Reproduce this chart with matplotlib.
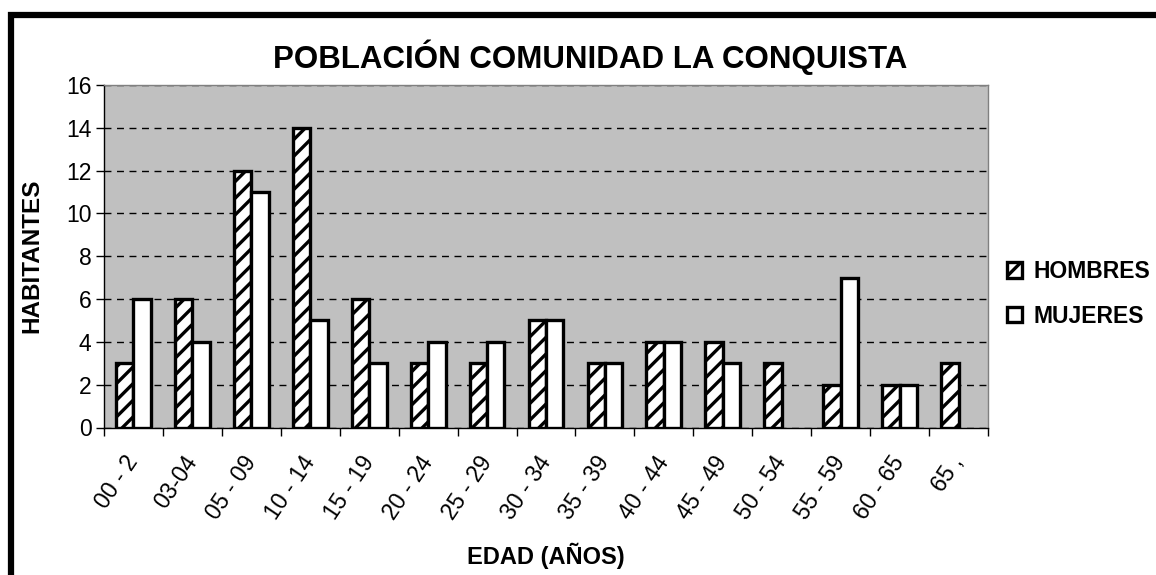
import matplotlib
matplotlib.use("Agg")
import matplotlib.pyplot as plt
import numpy as np
from matplotlib.patches import Rectangle

plt.rcParams["font.family"] = ["Liberation Sans", "DejaVu Sans"]
plt.rcParams["hatch.linewidth"] = 2.4

edades = ["00 - 2", "03-04", "05 - 09", "10 - 14", "15 - 19", "20 - 24", "25 - 29",
          "30 - 34", "35 - 39", "40 - 44", "45 - 49", "50 - 54", "55 - 59", "60 - 65", "65 ,"]
hombres = [3, 6, 12, 14, 6, 3, 3, 5, 3, 4, 4, 3, 2, 2, 3]
mujeres = [6, 4, 11, 5, 3, 4, 4, 5, 3, 4, 3, 0, 7, 2, 0]

W, H = 1156, 575
fig = plt.figure(figsize=(W / 100, H / 100), dpi=100)
ax = fig.add_axes([104 / W, 1 - 427.5 / H, (988 - 104) / W, (427.5 - 85) / H])

x = np.arange(len(edades))
bw = 0.295
h = np.array(hombres)
m = np.array(mujeres)
# las barras con valor 0 no se dibujan (como en el original)
ax.bar(x[h > 0] - bw / 2, h[h > 0], bw, color="white", edgecolor="black", linewidth=2.4,
       hatch="//", label="HOMBRES", zorder=3)
ax.bar(x[m > 0] + bw / 2, m[m > 0], bw, color="white", edgecolor="black", linewidth=2.4,
       label="MUJERES", zorder=3)

ax.set_facecolor("#c0c0c0")
ax.set_xlim(-0.5, len(edades) - 0.5)
ax.set_ylim(0, 16)
ax.set_yticks(range(0, 17, 2))
ax.yaxis.grid(True, color="black", linestyle=(0, (5, 4)), linewidth=1.0, zorder=1)
ax.set_axisbelow(True)

ax.set_xticks(x)
ax.set_xticklabels(edades, rotation=56, ha="right", va="center", rotation_mode="anchor",
                   fontsize=16.5)
ax.tick_params(axis="x", length=0, pad=22)
ax.set_xticks(np.arange(-0.5, len(edades)), minor=True)
ax.tick_params(axis="x", which="minor", length=6, width=1, direction="out")
ax.tick_params(axis="y", labelsize=16.5, length=6, width=1, pad=3)

for side in ["top", "right"]:
    ax.spines[side].set_color("#808080")
    ax.spines[side].set_linewidth(1)
ax.spines["left"].set_linewidth(1)
ax.spines["bottom"].set_linewidth(1)

fig.text(32 / W, 1 - 256 / H, "HABITANTES", fontsize=17.5, fontweight="bold",
         rotation=90, ha="center", va="center")
fig.text(546 / W, 1 - 556 / H, "EDAD (AÑOS)", fontsize=17, fontweight="bold",
         ha="center", va="center")
fig.text(590 / W, 1 - 57 / H, "POBLACIÓN COMUNIDAD LA CONQUISTA", fontsize=22.5,
         fontweight="bold", ha="center", va="center")

ax.legend(loc="center left", bbox_to_anchor=(996 / W, 1 - 294 / H),
          bbox_transform=fig.transFigure, frameon=False, borderpad=0,
          handlelength=0.65, handleheight=0.65, handletextpad=0.5, labelspacing=0.95,
          prop={"weight": "bold", "size": 16.5})

fig.patches.append(Rectangle((11 / W, -0.1), 1.2, 1 - 15 / H + 0.1, transform=fig.transFigure,
                             fill=False, edgecolor="black", linewidth=4.5))

fig.savefig("out.png")
